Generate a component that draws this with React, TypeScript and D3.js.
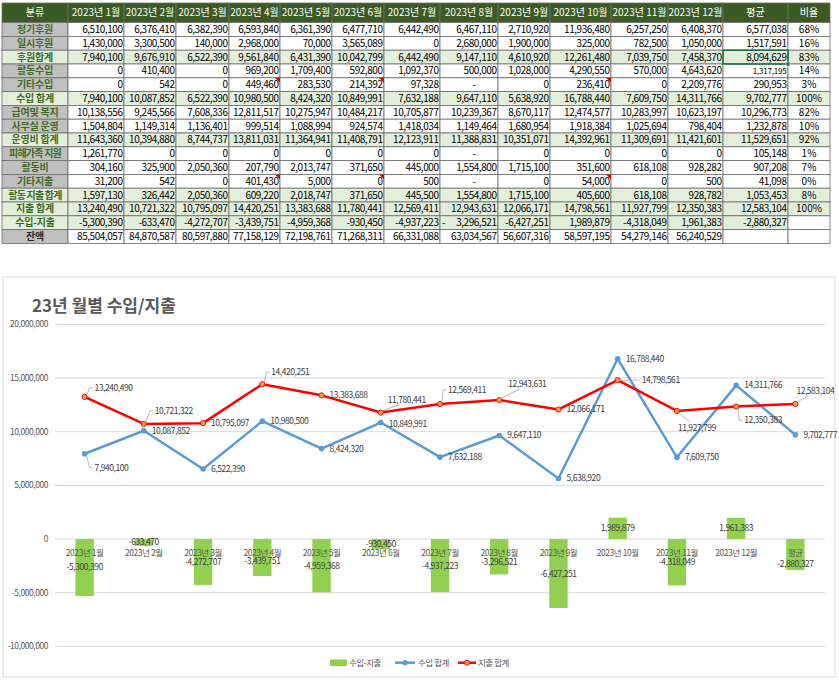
import React from "react";
import * as d3 from "d3";

// ---- table data ----
const headerLabels = [
  "분류", "2023년 1월", "2023년 2월", "2023년 3월", "2023년 4월", "2023년 5월", "2023년 6월",
  "2023년 7월", "2023년 8월", "2023년 9월", "2023년 10월", "2023년 11월", "2023년 12월", "평균", "비율",
];

const rowLabels = [
  "정기후원", "일시후원", "후원합계", "활동수입", "기타수입", "수입 합계", "급여및 복지", "사무실 운영",
  "운영비 합계", "피해가족 지원", "활동비", "기타지출", "활동 지출 합계", "지출 합계", "수입-지출", "잔액",
];

// rows flagged as subtotal rows (light green)
const sumRows = [2, 5, 8, 12, 13, 14];

const tableValues = [
  ["6,510,100", "6,376,410", "6,382,390", "6,593,840", "6,361,390", "6,477,710", "6,442,490", "6,467,110", "2,710,920", "11,936,480", "6,257,250", "6,408,370", "6,577,038", "68%"],
  ["1,430,000", "3,300,500", "140,000", "2,968,000", "70,000", "3,565,089", "0", "2,680,000", "1,900,000", "325,000", "782,500", "1,050,000", "1,517,591", "16%"],
  ["7,940,100", "9,676,910", "6,522,390", "9,561,840", "6,431,390", "10,042,799", "6,442,490", "9,147,110", "4,610,920", "12,261,480", "7,039,750", "7,458,370", "8,094,629", "83%"],
  ["0", "410,400", "0", "969,200", "1,709,400", "592,800", "1,092,370", "500,000", "1,028,000", "4,290,550", "570,000", "4,643,620", "1,317,195", "14%"],
  ["0", "542", "0", "449,460", "283,530", "214,392", "97,328", "-", "0", "236,410", "0", "2,209,776", "290,953", "3%"],
  ["7,940,100", "10,087,852", "6,522,390", "10,980,500", "8,424,320", "10,849,991", "7,632,188", "9,647,110", "5,638,920", "16,788,440", "7,609,750", "14,311,766", "9,702,777", "100%"],
  ["10,138,556", "9,245,566", "7,608,336", "12,811,517", "10,275,947", "10,484,217", "10,705,877", "10,239,367", "8,670,117", "12,474,577", "10,283,997", "10,623,197", "10,296,773", "82%"],
  ["1,504,804", "1,149,314", "1,136,401", "999,514", "1,088,994", "924,574", "1,418,034", "1,149,464", "1,680,954", "1,918,384", "1,025,694", "798,404", "1,232,878", "10%"],
  ["11,643,360", "10,394,880", "8,744,737", "13,811,031", "11,364,941", "11,408,791", "12,123,911", "11,388,831", "10,351,071", "14,392,961", "11,309,691", "11,421,601", "11,529,651", "92%"],
  ["1,261,770", "0", "0", "0", "0", "0", "0", "-", "0", "0", "0", "0", "105,148", "1%"],
  ["304,160", "325,900", "2,050,360", "207,790", "2,013,747", "371,650", "445,000", "1,554,800", "1,715,100", "351,600", "618,108", "928,282", "907,208", "7%"],
  ["31,200", "542", "0", "401,430", "5,000", "0", "500", "-", "0", "54,000", "0", "500", "41,098", "0%"],
  ["1,597,130", "326,442", "2,050,360", "609,220", "2,018,747", "371,650", "445,500", "1,554,800", "1,715,100", "405,600", "618,108", "928,782", "1,053,453", "8%"],
  ["13,240,490", "10,721,322", "10,795,097", "14,420,251", "13,383,688", "11,780,441", "12,569,411", "12,943,631", "12,066,171", "14,798,561", "11,927,799", "12,350,383", "12,583,104", "100%"],
  ["-5,300,390", "-633,470", "-4,272,707", "-3,439,751", "-4,959,368", "-930,450", "-4,937,223", "- 3,296,521", "-6,427,251", "1,989,879", "-4,318,049", "1,961,383", "-2,880,327", ""],
  ["85,504,057", "84,870,587", "80,597,880", "77,158,129", "72,198,761", "71,268,311", "66,331,088", "63,034,567", "56,607,316", "58,597,195", "54,279,146", "56,240,529", "", ""],
];

// ---- chart data ----
const categories = [
  "2023년 1월", "2023년 2월", "2023년 3월", "2023년 4월", "2023년 5월", "2023년 6월",
  "2023년 7월", "2023년 8월", "2023년 9월", "2023년 10월", "2023년 11월", "2023년 12월", "평균",
];
const incomeTotal = [7940100, 10087852, 6522390, 10980500, 8424320, 10849991, 7632188, 9647110, 5638920, 16788440, 7609750, 14311766, 9702777];
const expenseTotal = [13240490, 10721322, 10795097, 14420251, 13383688, 11780441, 12569411, 12943631, 12066171, 14798561, 11927799, 12350383, 12583104];
const netValues = [-5300390, -633470, -4272707, -3439751, -4959368, -930450, -4937223, -3296521, -6427251, 1989879, -4318049, 1961383, -2880327];

// label placement (offset from the point, leader style: 0 none, 1 side, 2 to label bottom, 3 to label top)
const incomeLabelPos = [[10, 14, 1], [8, 0, 0], [8, 0, 0], [8, 0, 0], [8, 0, 0], [8, 1, 0], [8, 0, 0], [8, 0, 0], [8, 0, 0], [8, 0, 0], [8, 0, 0], [8, 0, 0], [8, 0, 0]];
const expenseLabelPos = [[10, -9, 1], [11, -13, 1], [8, 0, 0], [9, -12, 1], [8, 0, 0], [7, -13, 2], [8, -14, 1], [9, -16, 2], [8, 0, 0], [24, 0, 1], [1, 17, 3], [8, 14, 1], [1, -13, 2]];
const barLabelShift = [0, 0, 0, 4, 0, 0, 0, 5, 0, 0, 0, 0, 10];

const FONT = "'Noto Sans CJK KR', 'Noto Sans', sans-serif";
const colEdges = [2, 68, 124, 176, 229, 280, 332, 384, 440, 498, 550, 611, 668, 723, 788, 830];
const tableTop = 3;
const headerH = 19.6;
const rowH = 13.8;

const fmt = d3.formatLocale({ decimal: ".", thousands: ",", grouping: [3], currency: ["", ""], minus: "-" }).format(",");

function Table() {
  const cells: React.ReactNode[] = [];
  const y0 = tableTop + headerH;
  // header
  headerLabels.forEach((h, c) => {
    const x0 = colEdges[c];
    const x1 = colEdges[c + 1];
    cells.push(
      <g key={"h" + c}>
        <rect x={x0} y={tableTop} width={x1 - x0} height={headerH} fill="#3b5a24" stroke="#6b6b6b" strokeWidth={0.8} />
        <text x={(x0 + x1) / 2} y={tableTop + headerH / 2} dy="0.35em" textAnchor="middle" fill="#fff" fontSize={10}>{h}</text>
      </g>
    );
  });
  rowLabels.forEach((label, r) => {
    const ry = y0 + r * rowH;
    const isSum = sumRows.includes(r);
    cells.push(
      <g key={"l" + r}>
        <rect x={colEdges[0]} y={ry} width={colEdges[1] - colEdges[0]} height={rowH} fill={isSum ? "#e2efda" : "#bfbfbf"} stroke="#6b6b6b" strokeWidth={0.8} />
        <text x={(colEdges[0] + colEdges[1]) / 2} y={ry + rowH / 2} dy="0.35em" textAnchor="middle" fontSize={10} fontWeight={600}
          letterSpacing={label.length > 6 ? -0.8 : -0.2}
          fill={r === 15 ? "#262626" : "#3f6a24"}>{label}</text>
      </g>
    );
    tableValues[r].forEach((v, ci) => {
      const c = ci + 1;
      const x0 = colEdges[c];
      const x1 = colEdges[c + 1];
      const isRatio = c === 14;
      let fill = isSum ? "#e2efda" : "#fff";
      if (r === 14 && isRatio) fill = "#fff";
      let content: React.ReactNode;
      if (v === "-") {
        content = <text x={x1 - 22} y={ry + rowH / 2} dy="0.35em" textAnchor="end" fontSize={10} fill="#000">-</text>;
      } else if (v.startsWith("- ")) {
        content = (
          <>
            <text x={x0 + 2} y={ry + rowH / 2} dy="0.35em" fontSize={10} fill="#000">-</text>
            <text x={x1 - 1.5} y={ry + rowH / 2} dy="0.35em" textAnchor="end" fontSize={10} letterSpacing={-0.45} fill="#000">{v.slice(2)}</text>
          </>
        );
      } else if (isRatio) {
        content = <text x={(x0 + x1) / 2} y={ry + rowH / 2} dy="0.35em" textAnchor="middle" fontSize={10} fill="#000">{v}</text>;
      } else {
        const small = r === 3 && c === 13;
        content = <text x={x1 - 1.5} y={ry + rowH / 2} dy="0.35em" textAnchor="end" fontSize={small ? 8 : 10} letterSpacing={small ? -0.2 : -0.45} fill="#000">{v}</text>;
      }
      cells.push(
        <g key={"c" + r + "_" + c}>
          <rect x={x0} y={ry} width={x1 - x0} height={rowH} fill={fill} stroke="#6b6b6b" strokeWidth={0.8} />
          {content}
        </g>
      );
    });
  });
  // comment markers
  [4, 11].forEach((r) => {
    [4, 6, 10].forEach((c) => {
      const x1 = colEdges[c + 1];
      const ry = y0 + r * rowH;
      cells.push(<path key={"m" + r + c} d={`M${x1 - 5},${ry}L${x1},${ry}L${x1},${ry + 5}Z`} fill="#e00000" />);
    });
  });
  // active cell
  const ax0 = colEdges[13];
  const ax1 = colEdges[14];
  const ay = y0 + 2 * rowH;
  cells.push(
    <g key="active">
      <rect x={ax0} y={ay} width={ax1 - ax0} height={rowH} fill="none" stroke="#217346" strokeWidth={1.6} />
      <rect x={ax1 - 2} y={ay + rowH - 2} width={4} height={4} fill="#217346" stroke="#fff" strokeWidth={0.6} />
    </g>
  );
  return <g fontFamily={FONT}>{cells}</g>;
}

function Chart() {
  const x = d3.scaleBand().domain(categories).range([55, 825]);
  const y = d3.scaleLinear().domain([-10000000, 20000000]).range([646.4, 324.3]);
  const cx = (i: number) => (x(categories[i]) as number) + x.bandwidth() / 2;
  const barW = x.bandwidth() * 0.31;
  const ticks = y.ticks(6);
  const line = d3.line<number>().x((d, i) => cx(i)).y((d) => y(d));

  const labels = (vals: number[], pos: number[][], key: string) =>
    vals.map((v, i) => {
      const px = cx(i);
      const py = y(v);
      const [dx, dy, kind] = pos[i];
      const lx = px + dx;
      const ly = py + dy;
      let leader: React.ReactNode = null;
      if (kind === 1) leader = <path d={`M${px + 2},${py + Math.sign(dy) * 2}L${lx - 5},${ly}L${lx - 2},${ly}`} fill="none" stroke="#a6a6a6" strokeWidth={0.8} />;
      if (kind === 2) leader = <path d={`M${px + 2},${py - 2}L${lx + 12},${ly + 5}`} fill="none" stroke="#a6a6a6" strokeWidth={0.8} />;
      if (kind === 3) leader = <path d={`M${px + 2},${py + 2}L${lx + 12},${ly - 6}`} fill="none" stroke="#a6a6a6" strokeWidth={0.8} />;
      return (
        <g key={key + i}>
          {leader}
          <text x={lx} y={ly} dy="0.35em" fontSize={8.5} fill="#404040">{fmt(v)}</text>
        </g>
      );
    });

  return (
    <g fontFamily={FONT} letterSpacing={-0.45}>
      <rect x={3} y={277} width={832} height={400} fill="#fff" stroke="#d9d9d9" strokeWidth={1} />
      <text x={32} y={306} dy="0.35em" fontSize={17} fontWeight={700} fill="#595959" letterSpacing={0}>23년 월별 수입/지출</text>
      {ticks.map((t) => (
        <g key={"t" + t}>
          <line x1={55} x2={825} y1={y(t)} y2={y(t)} stroke="#d9d9d9" strokeWidth={1} />
          <text x={48} y={y(t)} dy="0.35em" textAnchor="end" fontSize={8.5} fill="#595959">{fmt(t)}</text>
        </g>
      ))}
      {netValues.map((v, i) => (
        <rect key={"b" + i} x={cx(i) - barW / 2} y={y(Math.max(0, v))} width={barW} height={Math.abs(y(v) - y(0))} fill="#92d050" />
      ))}
      {categories.map((c, i) => (
        <text key={"cat" + i} x={cx(i)} y={y(0) + 13.7} dy="0.35em" textAnchor="middle" fontSize={8.5} fill="#595959">{c}</text>
      ))}
      {netValues.map((v, i) => (
        <text key={"bl" + i} x={cx(i)} y={(y(v) + y(0)) / 2 + barLabelShift[i]} dy="0.35em" textAnchor="middle" fontSize={8.5} fill="#404040">{fmt(v)}</text>
      ))}
      <path d={line(incomeTotal) as string} fill="none" stroke="#5b9bd5" strokeWidth={2.5} strokeLinejoin="round" />
      <path d={line(expenseTotal) as string} fill="none" stroke="#ff0000" strokeWidth={2.5} strokeLinejoin="round" />
      {incomeTotal.map((v, i) => (
        <circle key={"ip" + i} cx={cx(i)} cy={y(v)} r={2.8} fill="#5b9bd5" />
      ))}
      {expenseTotal.map((v, i) => (
        <circle key={"ep" + i} cx={cx(i)} cy={y(v)} r={2.6} fill="#f4a040" stroke="#ff0000" strokeWidth={0.9} />
      ))}
      {labels(incomeTotal, incomeLabelPos, "il")}
      {labels(expenseTotal, expenseLabelPos, "el")}
      {/* legend */}
      <rect x={330} y={659.5} width={17} height={6.5} fill="#92d050" />
      <text x={349} y={662.7} dy="0.35em" fontSize={8.5} fill="#595959">수입-지출</text>
      <line x1={395} x2={415} y1={662.7} y2={662.7} stroke="#5b9bd5" strokeWidth={2.5} />
      <circle cx={405} cy={662.7} r={2.6} fill="#5b9bd5" />
      <text x={418} y={662.7} dy="0.35em" fontSize={8.5} fill="#595959">수입 합계</text>
      <line x1={458} x2={476} y1={662.7} y2={662.7} stroke="#ff0000" strokeWidth={2.5} />
      <circle cx={467} cy={662.7} r={2.6} fill="#f4a040" stroke="#ff0000" strokeWidth={0.9} />
      <text x={478} y={662.7} dy="0.35em" fontSize={8.5} fill="#595959">지출 합계</text>
    </g>
  );
}

export default function App() {
  return (
    <div style={{ position: "absolute", left: 0, top: 0 }}>
      <svg width={839} height={682} style={{ display: "block", background: "#fff" }}>
        <Table />
        <Chart />
      </svg>
    </div>
  );
}
